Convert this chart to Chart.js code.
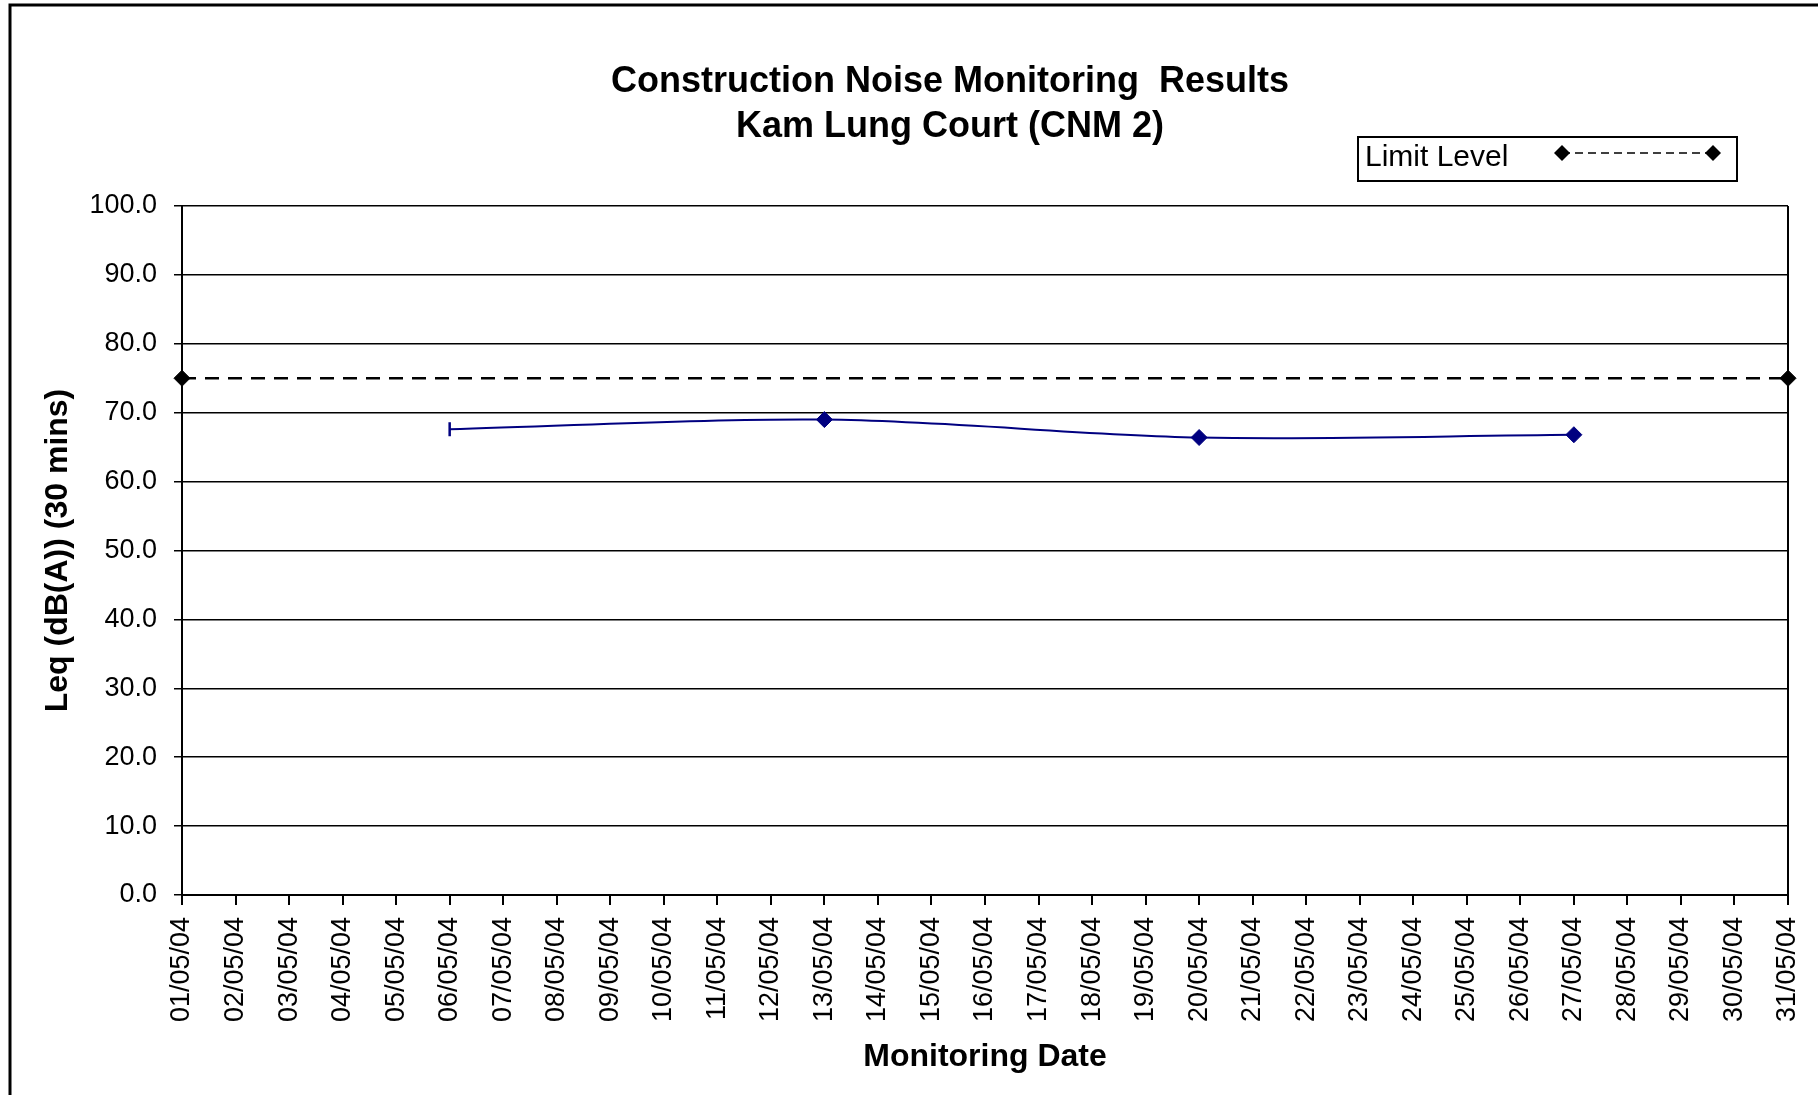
<!DOCTYPE html>
<html>
<head>
<meta charset="utf-8">
<script src="https://cdn.jsdelivr.net/npm/chart.js@4.4.1/dist/chart.umd.min.js"></script>
<style>
    html, body { margin: 0; padding: 0; background: #fff; }
    canvas { display: block; }
</style>
</head>
<body>
<canvas id="noiseChart" width="1818" height="1095"></canvas>
<script>
// x axis categories (one per day in May 2004)
const dates = [
    '01/05/04', '02/05/04', '03/05/04', '04/05/04', '05/05/04', '06/05/04', '07/05/04', '08/05/04',
    '09/05/04', '10/05/04', '11/05/04', '12/05/04', '13/05/04', '14/05/04', '15/05/04', '16/05/04',
    '17/05/04', '18/05/04', '19/05/04', '20/05/04', '21/05/04', '22/05/04', '23/05/04', '24/05/04',
    '25/05/04', '26/05/04', '27/05/04', '28/05/04', '29/05/04', '30/05/04', '31/05/04'
];

// measured Leq at Kam Lung Court
const noiseDates = ['06/05/04', '13/05/04', '20/05/04', '27/05/04'];
const noiseValues = [67.6, 69.0, 66.4, 66.8];

// limit level
const limitDates = ['01/05/04', '31/05/04'];
const limitValues = [75, 75];

const yMin = 0;
const yMax = 100;
const yStep = 10;

const FONT = '"Liberation Sans", Arial, sans-serif';

// frame, titles, legend drawn on the canvas
const decorations = {
    id: 'decorations',
    beforeDraw(chart) {
        const ctx = chart.ctx;
        ctx.save();
        ctx.fillStyle = '#fff';
        ctx.fillRect(0, 0, chart.width, chart.height);
        ctx.strokeStyle = '#000';
        ctx.lineWidth = 3;
        ctx.beginPath();
        ctx.moveTo(10, chart.height + 5);
        ctx.lineTo(10, 5);
        ctx.lineTo(chart.width + 5, 5);
        ctx.stroke();
        ctx.restore();
    },
    beforeDatasetsDraw(chart) {
        const ctx = chart.ctx;
        const area = chart.chartArea;
        ctx.save();
        ctx.strokeStyle = '#000';
        ctx.lineWidth = 2;
        ctx.beginPath();
        ctx.moveTo(area.right, area.top);
        ctx.lineTo(area.right, area.bottom);
        ctx.stroke();
        ctx.restore();
    },
    afterDraw(chart) {
        const ctx = chart.ctx;
        const area = chart.chartArea;
        ctx.save();
        ctx.fillStyle = '#000';

        // chart title
        ctx.font = 'bold 36px ' + FONT;
        ctx.textAlign = 'center';
        ctx.textBaseline = 'alphabetic';
        ctx.fillText('Construction Noise Monitoring  Results', 950, 92);
        ctx.fillText('Kam Lung Court (CNM 2)', 950, 137);

        // axis titles
        ctx.font = 'bold 32px ' + FONT;
        ctx.fillText('Monitoring Date', (area.left + area.right) / 2, 1066);
        ctx.save();
        ctx.translate(58, (area.top + area.bottom) / 2);
        ctx.rotate(-Math.PI / 2);
        ctx.textBaseline = 'middle';
        ctx.fillText('Leq (dB(A)) (30 mins)', 0, 0);
        ctx.restore();

        // legend box
        ctx.lineWidth = 2;
        ctx.strokeStyle = '#000';
        ctx.strokeRect(1358, 137, 379, 44);
        ctx.font = '30px ' + FONT;
        ctx.textAlign = 'left';
        ctx.textBaseline = 'middle';
        ctx.fillText('Limit Level', 1365, 158);

        ctx.lineWidth = 1.5;
        ctx.setLineDash([8, 5]);
        ctx.beginPath();
        ctx.moveTo(1562, 153);
        ctx.lineTo(1713, 153);
        ctx.stroke();
        ctx.setLineDash([]);
        [1562, 1713].forEach(x => {
            ctx.beginPath();
            ctx.moveTo(x, 145);
            ctx.lineTo(x + 8, 153);
            ctx.lineTo(x, 161);
            ctx.lineTo(x - 8, 153);
            ctx.closePath();
            ctx.fill();
        });
        ctx.restore();
    }
};

const ctx = document.getElementById('noiseChart').getContext('2d');

new Chart(ctx, {
    type: 'line',
    data: {
        labels: dates,
        datasets: [
            {
                label: 'Limit Level',
                data: limitDates.map((d, i) => ({ x: d, y: limitValues[i] })),
                borderColor: '#000',
                borderWidth: 2.5,
                borderDash: [14, 9],
                pointStyle: 'rectRot',
                pointRadius: 8,
                pointBackgroundColor: '#000',
                pointBorderColor: '#000',
                pointBorderWidth: 1,
                tension: 0,
                clip: false
            },
            {
                label: 'CNM 2',
                data: noiseDates.map((d, i) => ({ x: d, y: noiseValues[i] })),
                borderColor: '#000080',
                borderWidth: 2,
                pointStyle: ['line', 'rectRot', 'rectRot', 'rectRot'],
                pointRotation: [90, 0, 0, 0],
                pointRadius: [7, 8, 8, 8],
                pointBackgroundColor: '#000080',
                pointBorderColor: '#000080',
                pointBorderWidth: [2.5, 1, 1, 1],
                tension: 0.33,
                clip: false
            }
        ]
    },
    options: {
        responsive: false,
        animation: false,
        layout: {
            padding: { top: 206, right: 30, left: 0, bottom: 0 }
        },
        plugins: {
            legend: { display: false },
            title: { display: false },
            tooltip: { enabled: false }
        },
        scales: {
            x: {
                type: 'category',
                offset: false,
                grid: {
                    drawOnChartArea: false,
                    color: '#000',
                    lineWidth: 2,
                    tickLength: 10
                },
                border: { color: '#000', width: 2 },
                ticks: {
                    autoSkip: false,
                    maxRotation: 90,
                    minRotation: 90,
                    color: '#000',
                    padding: 12,
                    font: { family: FONT, size: 27 }
                },
                afterFit(scale) {
                    scale.height = 200;
                    scale.paddingLeft = 0;
                    scale.paddingRight = 0;
                }
            },
            y: {
                min: yMin,
                max: yMax,
                grid: {
                    color: '#000',
                    lineWidth: 1.5,
                    tickLength: 8
                },
                border: { color: '#000', width: 2 },
                ticks: {
                    stepSize: yStep,
                    color: '#000',
                    padding: 17,
                    font: { family: FONT, size: 27 },
                    callback: v => v.toFixed(1)
                },
                afterFit(scale) {
                    scale.width = 182;
                }
            }
        }
    },
    plugins: [decorations]
});
</script>
</body>
</html>
